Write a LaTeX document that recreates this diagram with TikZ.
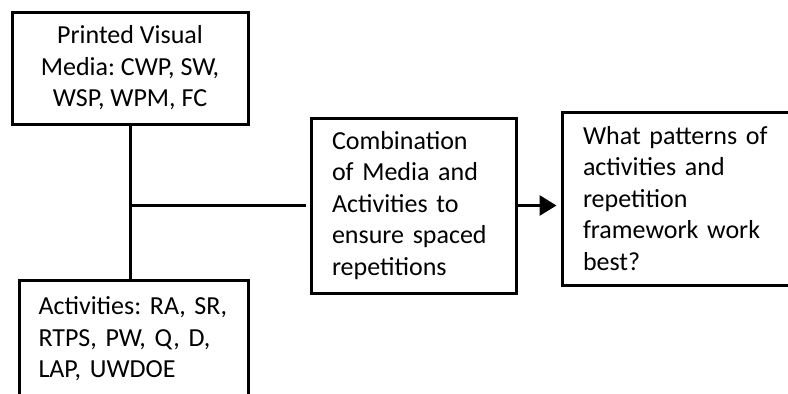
\documentclass[tikz,border=0pt]{standalone}
\usepackage{fontspec}
\setmainfont{Carlito}
\usetikzlibrary{arrows.meta}
\begin{document}
\frenchspacing
\begin{tikzpicture}[x=1pt, y=-1pt,
    box/.style={draw, line width=3pt, inner xsep=21pt, inner ysep=0pt,
      font=\fontsize{26}{31.5}\selectfont},
    link/.style={line width=3pt}]
  \useasboundingbox (0,0) rectangle (788,394);
  % boxes
  \node[box, minimum width=236pt, minimum height=112pt, align=center]
    (media) at (130,68) {Printed Visual\\Media: CWP, SW,\\WSP, WPM, FC};
  \node[box, minimum width=229pt, minimum height=118pt, text width=190pt,
    inner xsep=19.5pt, align=left]
    (acts) at (133.5,339) {Activities: RA, SR,\\RTPS, PW, Q, D,\\LAP, UWDOE};
  \node[box, minimum width=205pt, minimum height=175pt, text width=163pt, align=left]
    (combo) at (413.5,205.5) {Combination\\of Media and\\Activities to\\ensure spaced\\repetitions};
  \node[box, minimum width=240pt, minimum height=173pt, text width=198pt, align=left]
    (quest) at (682,198.5) {What patterns of\\activities and\\repetition\\framework work\\best?};
  % connectors
  \draw[link] (media.south) -- (media.south |- acts.north);
  \draw[link, shorten >=4pt] (media.south |- combo.west) -- (combo.west);
  \draw[link, ->, >={Triangle[length=17pt, width=20pt]}, shorten >=4pt]
    (combo.east) -- (combo.east -| quest.west);
\end{tikzpicture}
\end{document}
